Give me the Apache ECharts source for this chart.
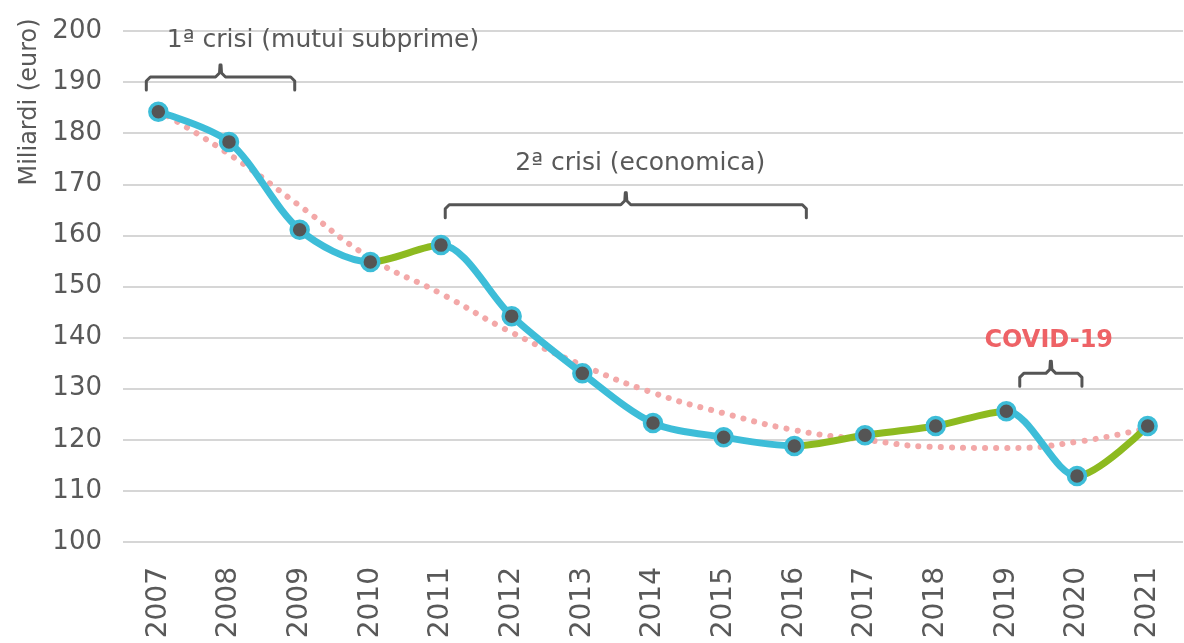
<!DOCTYPE html>
<html>
<head>
<meta charset="utf-8">
<script src="https://cdn.jsdelivr.net/npm/echarts@6/dist/echarts.min.js"></script>
<style>
html,body{margin:0;padding:0;background:#fff;}
#chart{width:1184px;height:643px;}
</style>
</head>
<body>
<div id="chart"></div>
<script>
// ---- data ----
const years = ['2007','2008','2009','2010','2011','2012','2013','2014','2015','2016','2017','2018','2019','2020','2021'];
const values = [184.2,178.3,161.1,154.8,158.1,144.2,133.0,123.3,120.5,118.8,120.9,122.7,125.6,112.9,122.7];
const trend = [184.4,175.9,165.8,155.6,148.6,141.0,134.6,129.2,125.2,121.9,120.0,118.6,118.4,119.6,122.3];
const yMin = 100, yMax = 200, yStep = 10;
const axisName = 'Miliardi (euro)';

// annotations (category positions / value levels)
const bracketLabels = ['1ª crisi (mutui subprime)', '2ª crisi (economica)', 'COVID-19'];
const bracketFrom = [-0.17, 4.06, 12.19];
const bracketTo = [1.93, 9.17, 13.07];
const bracketLevel = [191, 166, 133];
const labelPos = [2.33, 6.82, 12.6];
const labelLevel = [198.2, 174, 139.3];

const BLUE = '#3DBDD8', GREEN = '#8DBA20', DOT = '#555555', PINK = '#F3A8A8';
const FONT = 'DejaVu Sans';

const pieces = [];
for (let i = 0; i < values.length - 1; i++) {
  const c = values[i + 1] > values[i] ? GREEN : BLUE;
  const p = { gt: i, lte: i + 1, color: c };
  if (i === 0) { delete p.gt; }
  if (i === values.length - 2) { delete p.lte; }
  pieces.push(p);
}

const chart = echarts.init(document.getElementById('chart'));
chart.setOption({
  animation: false,
  grid: { left: 123, right: 1, top: 31, bottom: 101 },
  xAxis: {
    type: 'category',
    data: years,
    boundaryGap: true,
    axisLine: { show: false },
    axisTick: { show: false },
    axisLabel: { rotate: 90, margin: 25, fontSize: 28, color: '#595959', fontFamily: FONT }
  },
  yAxis: {
    type: 'value',
    min: yMin, max: yMax, interval: yStep,
    axisLine: { show: false },
    axisTick: { show: false },
    axisLabel: { margin: 21, fontSize: 26, color: '#595959', fontFamily: FONT },
    splitLine: { lineStyle: { color: '#C9C9C9', width: 1.5 } }
  },
  visualMap: {
    show: false, type: 'piecewise', dimension: 0, seriesIndex: 1, pieces: pieces
  },
  series: [
    {
      type: 'line', data: trend, smooth: true, showSymbol: false, z: 1,
      lineStyle: { color: PINK, width: 6, type: [0.1, 11], cap: 'round' }
    },
    {
      type: 'line', data: values, smooth: 0.3, showSymbol: false, z: 2,
      lineStyle: { width: 7, cap: 'round', join: 'round' }
    },
    {
      type: 'scatter', data: values, symbol: 'circle', symbolSize: 17, z: 3,
      itemStyle: { color: DOT, borderColor: BLUE, borderWidth: 3.5, opacity: 1 }
    }
  ]
});

function px(pos) {
  const a = chart.convertToPixel({ xAxisIndex: 0 }, 0);
  const b = chart.convertToPixel({ xAxisIndex: 0 }, 1);
  return a + pos * (b - a);
}
function py(v) { return chart.convertToPixel({ yAxisIndex: 0 }, v); }

const graphics = [];
for (let k = 0; k < bracketLabels.length; k++) {
  const x0 = px(bracketFrom[k]), x1 = px(bracketTo[k]), y = py(bracketLevel[k]);
  const xc = (x0 + x1) / 2;
  const st = { stroke: '#555555', lineWidth: 3, fill: null, lineJoin: 'round', lineCap: 'round' };
  graphics.push({ type: 'polyline', shape: { points: [[x0, y + 13], [x0, y + 4], [x0 + 4, y], [xc - 5, y], [xc - 1, y - 4], [xc - 0.5, y - 12]] }, style: st, z: 10 });
  graphics.push({ type: 'polyline', shape: { points: [[x1, y + 13], [x1, y + 4], [x1 - 4, y], [xc + 5, y], [xc + 1, y - 4], [xc + 0.5, y - 12]] }, style: st, z: 10 });
  const isCovid = k === 2;
  graphics.push({
    type: 'text', z: 10,
    style: {
      text: bracketLabels[k], x: px(labelPos[k]), y: py(labelLevel[k]),
      align: 'center', verticalAlign: 'middle',
      fill: isCovid ? '#EE6266' : '#595959',
      font: (isCovid ? 'bold 24px' : '25px') + ' "' + FONT + '"'
    }
  });
}
graphics.push({
  type: 'text', z: 10, rotation: Math.PI / 2, x: 30, y: 102,
  style: { text: axisName, x: 0, y: 0, align: 'center', verticalAlign: 'middle', fill: '#595959', font: '24px "' + FONT + '"' }
});
chart.setOption({ graphic: graphics });
</script>
</body>
</html>
